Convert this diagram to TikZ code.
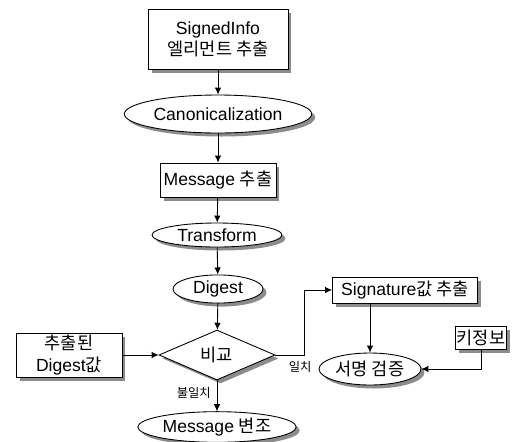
\documentclass[tikz,border=0pt]{standalone}
\usepackage{fontspec}
\setmainfont{Liberation Sans}
\newfontfamily\kr[Scale=1.0]{Noto Sans CJK KR}
\usepackage{tikz}
\usetikzlibrary{shapes.geometric,shadows}
\usetikzlibrary{arrows.meta}

\tikzset{
  boxin/.style={draw, fill=white, align=center, inner sep=1pt,
    drop shadow={shadow xshift=0.07cm, shadow yshift=-0.07cm, fill=black!45, opacity=1}},
  ovalin/.style={boxin, ellipse},
  tipin/.style={-{Latex[length=1.4mm, width=1.3mm]}},
  smallin/.style={font=\fontsize{7}{8}\selectfont}
}

\begin{document}
\begin{tikzpicture}[x=0.02cm, y=-0.02cm, line width=0.5pt]

\useasboundingbox (0,0) rectangle (512,441);

\path
(218,39) node[boxin, minimum width=2.8cm, minimum height=1.2cm] (sigin) {SignedInfo\\{\kr 엘리먼트 추출}}
(218,114) node[ovalin, minimum width=3.12cm, minimum height=0.76cm] (canin) {Canonicalization}
(218,180) node[boxin, minimum width=2.32cm, minimum height=0.68cm] (msgin) {Message {\kr 추출}}
(217,235) node[ovalin, minimum width=2.6cm, minimum height=0.48cm] (trin) {Transform}
(218,289) node[ovalin, minimum width=1.8cm, minimum height=0.52cm] (digin) {Digest}
(217,355) node[boxin, diamond, inner sep=0pt, minimum width=2.32cm, minimum height=1cm] (cmpin) {\kr 비교}
(69,355) node[boxin, minimum width=2.12cm, minimum height=0.88cm] (extin) {{\kr 추출된}\\Digest{\kr 값}}
(217,427) node[ovalin, minimum width=2.7cm, minimum height=0.56cm] (modin) {Message {\kr 변조}};

\path
(405,290) node[boxin, minimum width=2.9cm, minimum height=0.52cm] (sgvin) {Signature{\kr 값 추출}}
(370,369) node[ovalin, minimum width=1.7cm, minimum height=0.64cm] (verin) {\kr 서명 검증}
(481,338) node[boxin, inner sep=0.5pt, minimum width=1.02cm, minimum height=0.46cm] (keyin) {\kr 키정보}
(304,290) coordinate (bendin);

\draw[tipin] (sigin) -- (canin);
\draw[tipin] (canin) -- (msgin);
\draw[tipin] (msgin) -- (trin);
\draw[tipin] (trin) -- (digin);
\draw[tipin] (digin) -- (cmpin);
\draw[tipin] (extin) -- (cmpin);
\draw[tipin] (cmpin) -- (modin) node[pos=0.4, left, smallin] {\kr 불일치};

\draw[tipin] (cmpin.east) -| (bendin) -- (sgvin.west);
\path (cmpin.east) node[below right, smallin, xshift=4pt] (okin) {\kr 일치};
\draw[tipin] (verin.north |- sgvin.south) -- (verin.north);
\draw[tipin] (keyin.south) |- (verin.east);

\end{tikzpicture}
\end{document}
